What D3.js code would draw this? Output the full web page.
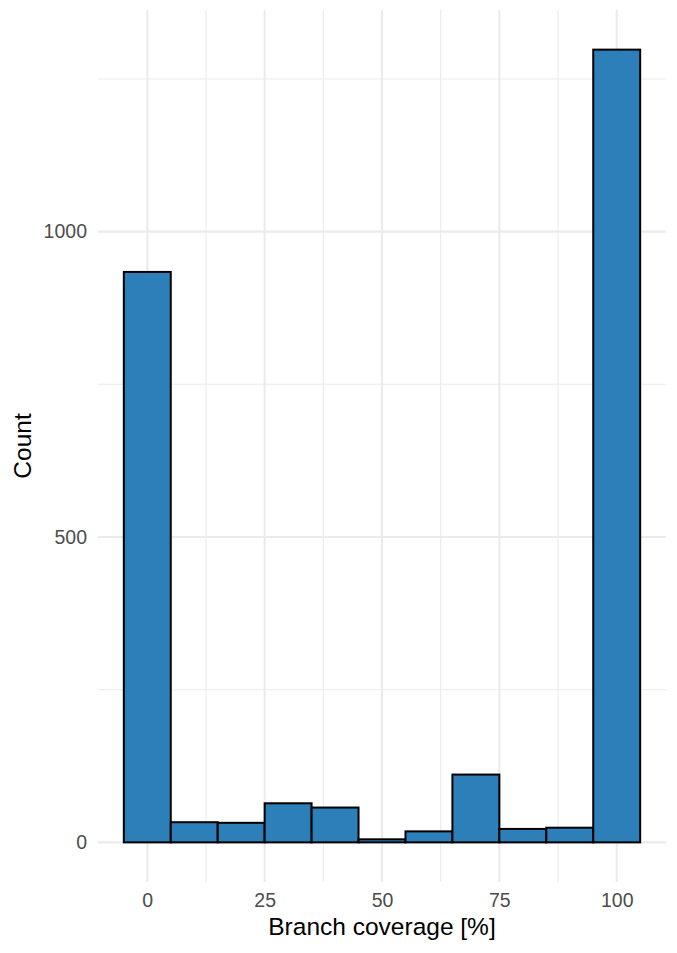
<!DOCTYPE html>
<html>
<head>
<meta charset="utf-8">
<script src="https://cdn.jsdelivr.net/npm/d3@7"></script>
<style>
  html, body { margin: 0; padding: 0; background: #fff; }
  svg { display: block; }
  text { font-family: "Liberation Sans", Arial, Helvetica, sans-serif; }
</style>
</head>
<body>
<svg id="chart" width="677" height="953"></svg>
<script>
// Data: histogram bins (centres, width 10) and counts
const binCenters = [0, 10, 20, 30, 40, 50, 60, 70, 80, 90, 100];
const counts = [934, 33, 32, 64, 57, 5, 18, 111, 22, 24, 1298];
const binWidth = 10;
const xTicks = [0, 25, 50, 75, 100];
const xMinorTicks = [12.5, 37.5, 62.5, 87.5];
const yTicks = [0, 500, 1000];
const yMinorTicks = [250, 750, 1250];
const xTitle = "Branch coverage [%]";
const yTitle = "Count";

const svg = d3.select("#chart");
const panel = { left: 98, right: 666, top: 10, bottom: 882 };

const xMin = d3.min(binCenters) - binWidth / 2, xMax = d3.max(binCenters) + binWidth / 2;
const xPad = (xMax - xMin) * 0.05;
const x = d3.scaleLinear().domain([xMin - xPad, xMax + xPad]).range([panel.left, panel.right]);

const yMaxV = d3.max(counts);
const yPad = yMaxV * 0.05;
const y = d3.scaleLinear().domain([-yPad, yMaxV + yPad]).range([panel.bottom, panel.top]);

const grid = svg.append("g");
// minor gridlines
grid.selectAll(".xminor").data(xMinorTicks).join("line")
  .attr("x1", d => x(d)).attr("x2", d => x(d))
  .attr("y1", panel.top).attr("y2", panel.bottom)
  .attr("stroke", "#EBEBEB").attr("stroke-width", 1.1);
grid.selectAll(".yminor").data(yMinorTicks).join("line")
  .attr("y1", d => y(d)).attr("y2", d => y(d))
  .attr("x1", panel.left).attr("x2", panel.right)
  .attr("stroke", "#EBEBEB").attr("stroke-width", 1.1);
// major gridlines
grid.selectAll(".xmajor").data(xTicks).join("line")
  .attr("x1", d => x(d)).attr("x2", d => x(d))
  .attr("y1", panel.top).attr("y2", panel.bottom)
  .attr("stroke", "#EBEBEB").attr("stroke-width", 2.1);
grid.selectAll(".ymajor").data(yTicks).join("line")
  .attr("y1", d => y(d)).attr("y2", d => y(d))
  .attr("x1", panel.left).attr("x2", panel.right)
  .attr("stroke", "#EBEBEB").attr("stroke-width", 2.1);

// bars
svg.append("g").selectAll("rect").data(binCenters.map((c, i) => ({ c, v: counts[i] }))).join("rect")
  .attr("x", d => x(d.c - binWidth / 2))
  .attr("width", d => x(d.c + binWidth / 2) - x(d.c - binWidth / 2))
  .attr("y", d => y(d.v))
  .attr("height", d => y(0) - y(d.v))
  .attr("fill", "#2C7FB8")
  .attr("stroke", "#000")
  .attr("stroke-width", 2);

// axes (no lines, text only)
const xAxis = svg.append("g").attr("transform", `translate(0,${panel.bottom})`)
  .call(d3.axisBottom(x).tickValues(xTicks).tickSize(0).tickPadding(11).tickFormat(d3.format("d")));
xAxis.select(".domain").remove();
xAxis.selectAll("text").attr("fill", "#4D4D4D").style("font-size", "19.5px")
  .style("font-family", '"Liberation Sans", Arial, sans-serif');

const yAxis = svg.append("g").attr("transform", `translate(${panel.left},0)`)
  .call(d3.axisLeft(y).tickValues(yTicks).tickSize(0).tickPadding(11).tickFormat(d3.format("d")));
yAxis.select(".domain").remove();
yAxis.selectAll("text").attr("fill", "#4D4D4D").style("font-size", "19.5px")
  .style("font-family", '"Liberation Sans", Arial, sans-serif');

// titles
svg.append("text")
  .attr("x", (panel.left + panel.right) / 2).attr("y", 935)
  .attr("text-anchor", "middle").attr("fill", "#000").style("font-size", "24.5px")
  .text(xTitle);
svg.append("text")
  .attr("transform", `translate(31,${(panel.top + panel.bottom) / 2}) rotate(-90)`)
  .attr("text-anchor", "middle").attr("fill", "#000").style("font-size", "24.5px")
  .text(yTitle);
</script>
</body>
</html>
